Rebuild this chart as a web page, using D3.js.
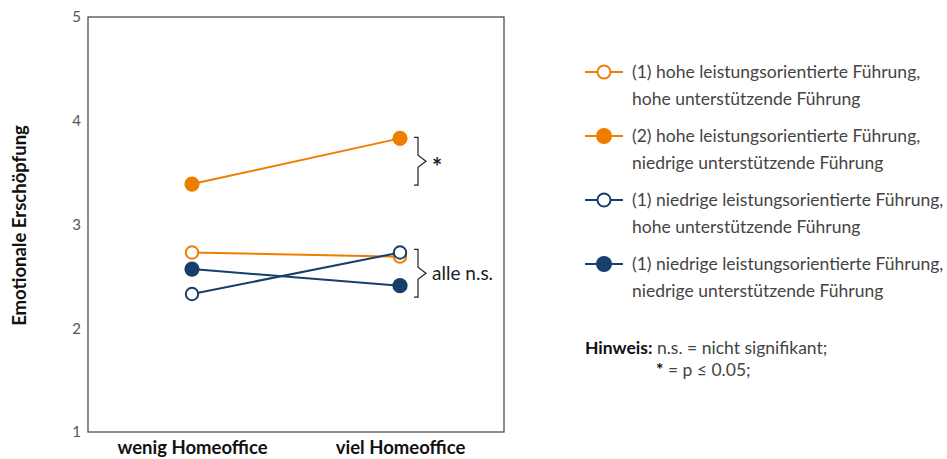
<!DOCTYPE html>
<html>
<head>
<meta charset="utf-8">
<script src="https://cdn.jsdelivr.net/npm/d3@7"></script>
<style>
  html, body { margin: 0; padding: 0; background: #fff; }
  svg { display: block; font-family: Lato, "Noto Sans", sans-serif; }
</style>
</head>
<body>
<svg id="chart" width="947" height="459"></svg>
<script>
// Conditions on the x axis
const categories = ["wenig Homeoffice", "viel Homeoffice"];

// Mean emotional exhaustion per leadership group
const seriesNames = [
  ["(1) hohe leistungsorientierte Führung,", "hohe unterstützende Führung"],
  ["(2) hohe leistungsorientierte Führung,", "niedrige unterstützende Führung"],
  ["(1) niedrige leistungsorientierte Führung,", "hohe unterstützende Führung"],
  ["(1) niedrige leistungsorientierte Führung,", "niedrige unterstützende Führung"]
];
const hoheHohe = [2.73, 2.69];
const hoheNiedrige = [3.39, 3.83];
const niedrigeHohe = [2.33, 2.73];
const niedrigeNiedrige = [2.57, 2.41];
const seriesValues = [hoheHohe, hoheNiedrige, niedrigeHohe, niedrigeNiedrige];
const seriesColors = ["#ef7d00", "#ef7d00", "#173f6b", "#173f6b"];
const seriesFilled = [false, true, false, true];

const yTicks = [1, 2, 3, 4, 5];
const yLabel = "Emotionale Erschöpfung";

// Significance brackets: [from, to] in data units at the right-hand category
const brackets = [
  { range: [3.38, 3.84], label: "*" },
  { range: [2.30, 2.76], label: "alle n.s." }
];

const svg = d3.select("#chart");
const plot = { left: 88, right: 504, top: 17, bottom: 432 };

const x = d3.scalePoint().domain(categories).range([plot.left, plot.right]).padding(0.5);
const y = d3.scaleLinear().domain([1, 5]).range([plot.bottom, plot.top]);

// Frame
svg.append("rect")
  .attr("x", plot.left).attr("y", plot.top)
  .attr("width", plot.right - plot.left).attr("height", plot.bottom - plot.top)
  .attr("fill", "none").attr("stroke", "#4d4d4d").attr("stroke-width", 1.3);

// Y axis
const yAxis = svg.append("g")
  .attr("transform", `translate(${plot.left},0)`)
  .call(d3.axisLeft(y).tickValues(yTicks).tickSize(0).tickPadding(7).tickFormat(d3.format("d")));
yAxis.select(".domain").remove();
yAxis.selectAll("text").attr("font-size", 15).attr("fill", "#555").attr("font-family", "Lato, sans-serif");

// X axis labels
const xAxis = svg.append("g")
  .attr("transform", `translate(0,${plot.bottom})`)
  .call(d3.axisBottom(x).tickSize(0).tickPadding(0));
xAxis.select(".domain").remove();
xAxis.selectAll("text")
  .attr("dy", null).attr("y", 22)
  .attr("font-size", 18.5).attr("font-weight", "bold").attr("fill", "#111")
  .attr("font-family", "Lato, sans-serif");

// Y axis title
svg.append("text")
  .attr("transform", `translate(20,${(plot.top + plot.bottom) / 2 + 1}) rotate(-90)`)
  .attr("text-anchor", "middle").attr("dy", "0.35em")
  .attr("font-size", 18.5).attr("font-weight", "bold").attr("fill", "#111")
  .text(yLabel);

// Lines and markers
const line = d3.line().x((d, i) => x(categories[i])).y(d => y(d));
const drawOrder = [0, 1, 3, 2];
drawOrder.forEach(s => {
  const g = svg.append("g");
  g.append("path").datum(seriesValues[s])
    .attr("d", line).attr("fill", "none")
    .attr("stroke", seriesColors[s]).attr("stroke-width", 2);
  g.selectAll("circle").data(seriesValues[s]).join("circle")
    .attr("cx", (d, i) => x(categories[i])).attr("cy", d => y(d))
    .attr("r", seriesFilled[s] ? 7.6 : 6.2)
    .attr("fill", seriesFilled[s] ? seriesColors[s] : "#fff")
    .attr("stroke", seriesColors[s]).attr("stroke-width", seriesFilled[s] ? 0 : 2);
});

// Brackets
const bx = x(categories[1]) + 18;
brackets.forEach(b => {
  const top = y(b.range[1]), bot = y(b.range[0]), mid = (top + bot) / 2;
  const p = d3.path();
  p.moveTo(bx - 4, top); p.lineTo(bx, top); p.lineTo(bx, mid - 6);
  p.lineTo(bx + 8, mid); p.lineTo(bx, mid + 6); p.lineTo(bx, bot); p.lineTo(bx - 4, bot);
  svg.append("path").attr("d", p.toString())
    .attr("fill", "none").attr("stroke", "#222").attr("stroke-width", 1.2);
  const star = b.label === "*";
  svg.append("text")
    .attr("x", bx + 14).attr("y", mid + (star ? 15 : 0))
    .attr("dy", star ? 0 : "0.35em")
    .attr("font-size", star ? 24 : 19).attr("font-weight", star ? "bold" : "normal")
    .attr("fill", "#222")
    .text(b.label);
});

// Legend
const legend = svg.append("g").attr("transform", "translate(585,0)");
const rowY = [72, 136, 200, 264];
seriesNames.forEach((lines, s) => {
  const g = legend.append("g").attr("transform", `translate(0,${rowY[s]})`);
  g.append("line").attr("x1", 0).attr("x2", 38).attr("y1", 0).attr("y2", 0)
    .attr("stroke", seriesColors[s]).attr("stroke-width", 2);
  g.append("circle").attr("cx", 19).attr("cy", 0)
    .attr("r", seriesFilled[s] ? 8 : 6.5)
    .attr("fill", seriesFilled[s] ? seriesColors[s] : "#fff")
    .attr("stroke", seriesColors[s]).attr("stroke-width", seriesFilled[s] ? 0 : 2);
  lines.forEach((t, k) => {
    g.append("text").attr("x", 47).attr("y", k * 26.5).attr("dy", "0.35em")
      .attr("font-size", 17.5).attr("fill", "#444").text(t);
  });
});

// Note
const note = svg.append("g").attr("font-size", 17.5).attr("fill", "#444");
const n1 = note.append("text").attr("x", 585).attr("y", 354);
n1.append("tspan").attr("font-weight", "bold").attr("fill", "#111").text("Hinweis:");
n1.append("tspan").text(" n.s. = nicht signifikant;");
const n2 = note.append("text").attr("x", 656).attr("y", 376);
n2.append("tspan").attr("font-weight", "bold").attr("fill", "#111").text("*");
n2.append("tspan").text(" = p ≤ 0.05;");
</script>
</body>
</html>
